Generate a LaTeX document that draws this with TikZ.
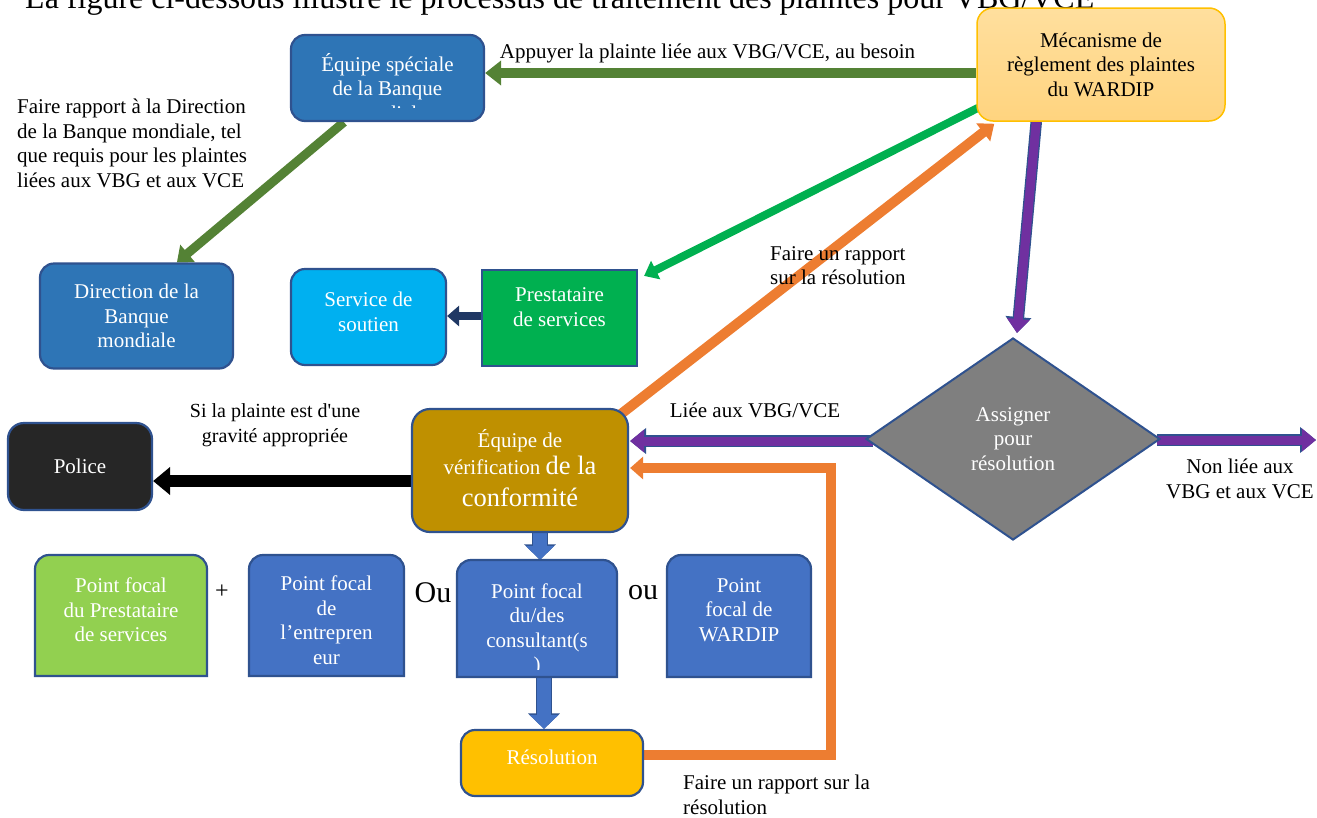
\documentclass[tikz,border=0pt]{standalone}
\usepackage{fontspec}
\setmainfont{Liberation Serif}[Ligatures=TeXOff]
\usetikzlibrary{arrows.meta,shapes.geometric,calc,backgrounds}
\definecolor{bd}{HTML}{2F528F}
\definecolor{bankblue}{HTML}{2E75B6}
\definecolor{pfblue}{HTML}{4472C4}
\definecolor{mectop}{HTML}{FFDF9E}
\definecolor{mecbot}{HTML}{FFD47F}
\definecolor{mecborder}{HTML}{FFC000}
\definecolor{svcblue}{HTML}{00B0F0}
\definecolor{prgreen}{HTML}{00B050}
\definecolor{olv}{HTML}{548235}
\definecolor{orangeA}{HTML}{ED7D31}
\definecolor{purpleA}{HTML}{7030A0}
\definecolor{greyD}{HTML}{7F7F7F}
\definecolor{goldA}{HTML}{BF9000}
\definecolor{policebk}{HTML}{262626}
\definecolor{lightgreen}{HTML}{92D050}
\definecolor{resyellow}{HTML}{FFC000}
\definecolor{navyA}{HTML}{203864}
\newcommand{\topbox}[5]{\path[draw=bd, line width=2.2pt, fill=#5]
  (#1,#4) -- (#1,#2+14) .. controls (#1,#2+6.3) and (#1+6.3,#2) .. (#1+14,#2)
  -- (#3-14,#2) .. controls (#3-6.3,#2) and (#3,#2+6.3) .. (#3,#2+14)
  -- (#3,#4) -- cycle;}
\begin{document}
\begin{tikzpicture}[x=1pt,y=-1pt,
  every node/.style={inner sep=0pt, font=\fontsize{21}{24.5}\selectfont},
  box/.style={draw=bd, line width=2.2pt, rounded corners=14pt},
  wtxt/.style={text=white, align=center},
  btxt/.style={text=black, align=center},
  ltxt/.style={text=black, align=left},
  conn/.style={line join=miter},
]
\useasboundingbox (0,0) rectangle (1317,817);

% title (cut by the page edge, as in the reference)
\node[anchor=base west, font=\fontsize{32}{36}\selectfont] (title) at (25,8)
  {La figure ci-dessous illustre le processus de traitement des plaintes pour VBG/VCE};

% boxes
\node[box, fill=bankblue, minimum width=193pt, minimum height=86pt] (eqs) at (387.5,78) {};
\begin{scope}
  \clip (293,37) rectangle (482,107);
  \node[wtxt] (eqst) at (387.5,87) {Équipe spéciale\\de la Banque\\mondiale};
\end{scope}

\node[draw=mecborder, line width=1.5pt, rounded corners=16pt, top color=mectop, bottom color=mecbot,
  minimum width=248pt, minimum height=113pt, btxt] (mec) at (1101,64.5)
  {Mécanisme de\\règlement des plaintes\\du WARDIP};

\node[box, fill=bankblue, minimum width=193pt, minimum height=105pt, wtxt] (dir) at (136.5,316)
  {Direction de la\\Banque\\mondiale};

\node[box, fill=svcblue, minimum width=155pt, minimum height=96pt] (svc) at (368.5,317) {};
\node[wtxt] (svct) at (368.5,312) {Service de\\soutien};

\node[draw=bd, line width=2.2pt, fill=prgreen, minimum width=155pt, minimum height=96pt] (pre) at (559.5,318) {};
\node[wtxt] (pret) at (559.5,307) {Prestataire\\de services};

\node[box, rounded corners=16pt, fill=policebk, minimum width=144pt, minimum height=87pt, wtxt] (pol) at (80,466.5) {Police};

\node[box, rounded corners=18pt, fill=goldA, minimum width=216pt, minimum height=123pt] (ver) at (520,470.5) {};
\node[wtxt] (vert) at (520,468)
  {Équipe de\\[3pt]vérification {\fontsize{26.5}{30}\selectfont de la}\\[7pt]{\fontsize{26.5}{30}\selectfont conformité}};

\node[diamond, draw=bd, line width=2pt, fill=greyD, minimum width=294pt, minimum height=202pt, wtxt] (dia) at (1013,439)
  {Assigner\\pour\\résolution};

\node[box, fill=resyellow, minimum width=182pt, minimum height=66pt] (res) at (552,763) {};
\node[wtxt] (rest) at (552,757) {Résolution};

% focal points
\topbox{35}{555}{207}{676}{lightgreen}
\node[minimum width=172pt, minimum height=121pt] (pfp) at (121,615.5) {};
\node[wtxt] (pfpt) at (121,610) {Point focal\\du Prestataire\\de services};

\topbox{249}{555}{404}{676}{pfblue}
\node[minimum width=155pt, minimum height=121pt] (pfe) at (326.5,615.5) {};
\node[wtxt] (pfet) at (326.5,620) {Point focal\\de\\l’entrepren\\eur};

\topbox{457}{560}{617}{677}{pfblue}
\node[minimum width=160pt, minimum height=117pt] (con) at (537,618.5) {};
\begin{scope}
  \clip (459,562) rectangle (615,669);
  \node[wtxt] (cont) at (537,630) {Point focal\\du/des\\consultant(s\\)};
\end{scope}

\topbox{667}{555}{811}{677}{pfblue}
\node[minimum width=144pt, minimum height=122pt] (pfw) at (739,616) {};
\node[wtxt] (pfwt) at (739,610) {Point\\focal de\\WARDIP};

\node[font=\fontsize{24}{28}\selectfont] (plus) at (222,592) {+};
\node[font=\fontsize{30}{34}\selectfont] (ou1) at (433,593) {Ou};
\node[font=\fontsize{30}{34}\selectfont] (ou2) at (643,593) {ou};

% labels
\node[btxt] (l1) at (707.5,53) {Appuyer la plainte liée aux VBG/VCE, au besoin};
\node[ltxt, anchor=west] (l2) at (17,143.5) {Faire rapport à la Direction\\de la Banque mondiale, tel\\que requis pour les plaintes\\liées aux VBG et aux VCE};
\node[ltxt, anchor=west] (l3) at (770,265.5) {Faire un rapport\\sur la résolution};
\node[btxt, font=\fontsize{20}{24.5}\selectfont] (l4) at (275,425) {Si la plainte est d'une\\gravité appropriée};
\node[btxt] (l5) at (755,410) {Liée aux VBG/VCE};
\node[btxt] (l6) at (1240,479) {Non liée aux\\VBG et aux VCE};
\node[ltxt, anchor=west] (l7) at (683,795) {Faire un rapport sur la\\résolution};

\coordinate (outR) at (1316,440);

% connectors
\begin{scope}[on background layer]
  \draw[conn, olv, line width=10pt, -{Triangle[width=24pt,length=16pt]}]
    ($(mec.west)+(0,8.5)$) -- ($(eqs.east)+(0,-5)$);
  \draw[conn, olv, line width=9pt, -{Triangle[width=22pt,length=14pt]}]
    ($(eqs.south west)+(54,0)$) -- ($(dir.north west)+(138,0)$);
  \draw[conn, prgreen, line width=8pt, -{Triangle[width=20pt,length=13pt]}]
    ($(mec.south west)+(2,-14)$) -- ($(pre.north east)+(6,7)$);
  \draw[conn, orangeA, line width=10pt, -{Triangle[width=22pt,length=14pt]}]
    ($(ver.north east)+(-8,6)$) -- ($(mec.south west)+(18,2)$);
  \draw[conn, purpleA, line width=9pt, -{Triangle[width=22pt,length=14pt]},
    preaction={draw=bd, line width=11.5pt, -{Triangle[width=25pt,length=16pt]}}]
    ($(mec.south west)+(60,0)$) -- ($(dia.north)+(4,-4)$);
  \draw[conn, navyA, line width=8pt, -{Triangle[width=20pt,length=12pt]}]
    ($(pre.west)+(0,-2)$) -- ($(svc.east)+(0,-1)$);
  \draw[conn, purpleA, line width=9pt, -{Triangle[width=22pt,length=14pt]},
    preaction={draw=bd, line width=11.5pt, -{Triangle[width=25pt,length=16pt]}}]
    ($(dia.west)+(8,2)$) -- ($(ver.east)+(1,-29.5)$);
  \draw[conn, purpleA, line width=9pt, -{Triangle[width=22pt,length=14pt]},
    preaction={draw=bd, line width=11.5pt, -{Triangle[width=25pt,length=16pt]}}]
    ($(dia.east)+(-4,1)$) -- (outR);
  \draw[conn, black, line width=12pt, -{Triangle[width=27pt,length=17pt]}]
    ($(ver.west)+(0,10.5)$) -- ($(pol.east)+(0,14.5)$);
  \draw[conn, orangeA, line width=10pt, -{Triangle[width=22pt,length=13pt]}]
    ($(res.east)+(0,-8)$) -- ++(187,0) |- ($(ver.east)+(1,-2.5)$);
  \draw[conn, pfblue, line width=14pt, -{Triangle[width=28pt,length=14pt]},
    preaction={draw=bd, line width=16pt, -{Triangle[width=31pt,length=15.5pt]}}]
    ($(ver.south -| con.north)+(3,0)$) -- ($(con.north)+(3,0)$);
  \draw[conn, pfblue, line width=14pt, -{Triangle[width=28pt,length=14pt]},
    preaction={draw=bd, line width=16pt, -{Triangle[width=31pt,length=15.5pt]}}]
    ($(con.south)+(7,0)$) -- ($(res.north -| con.south)+(7,0)$);
\end{scope}
\end{tikzpicture}
\end{document}
